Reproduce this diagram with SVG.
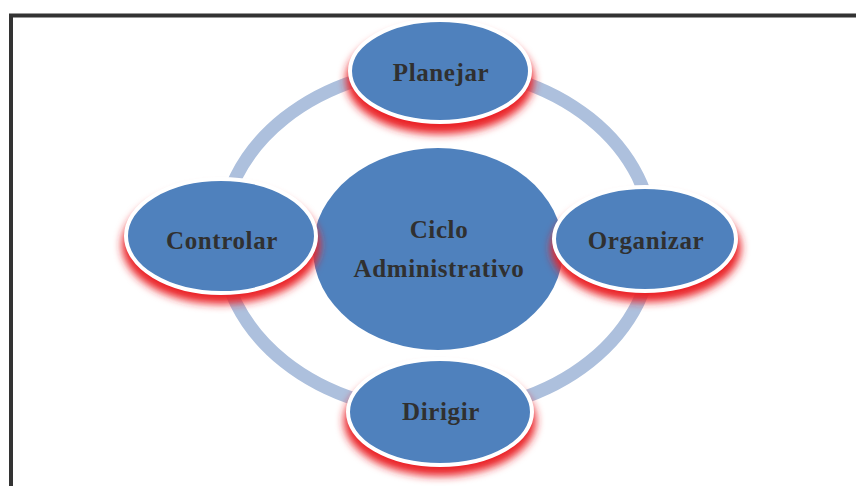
<svg xmlns="http://www.w3.org/2000/svg" width="856" height="486" viewBox="0 0 856 486">
  <defs>
    <filter id="glow" x="-30%" y="-30%" width="160%" height="170%">
      <feGaussianBlur stdDeviation="4"/>
    </filter>
    <style>
      .frame { fill: none; stroke: #333333; }
      .ring { fill: none; stroke: #adc0dd; stroke-width: 13; }
      .hub { fill: #4f81bd; }
      .shadow { fill: #ea2228; filter: url(#glow); }
      .step { fill: #4f81bd; stroke: #ffffff; stroke-width: 4; }
      .label { font-family: "Liberation Serif", "Times New Roman", serif; font-weight: bold; font-size: 25px; fill: #303030; text-anchor: middle; letter-spacing: 0.6px; }
    </style>
  </defs>

  <rect width="856" height="486" fill="#ffffff"/>

  <!-- page frame (top and left edges) -->
  <path class="frame" d="M11 486 V15.5 H856" stroke-width="4"/>

  <!-- cycle ring -->
  <g id="connectors">
    <ellipse class="ring" cx="437" cy="240" rx="216" ry="172"/>
  </g>

  <!-- central node -->
  <g id="node-ciclo">
    <ellipse class="hub" cx="438" cy="249" rx="125" ry="101"/>
    <text class="label" x="439" y="238">Ciclo</text>
    <text class="label" x="439" y="277">Administrativo</text>
  </g>

  <g id="node-planejar">
    <ellipse class="shadow" cx="440" cy="80" rx="94" ry="54"/>
    <ellipse class="step" cx="440" cy="71" rx="90" ry="51"/>
    <text class="label" x="441" y="81">Planejar</text>
  </g>

  <g id="node-controlar">
    <ellipse class="shadow" cx="221" cy="245" rx="99" ry="59"/>
    <ellipse class="step" cx="221" cy="236" rx="95" ry="57"/>
    <text class="label" x="222" y="249">Controlar</text>
  </g>

  <g id="node-organizar">
    <ellipse class="shadow" cx="646" cy="248" rx="95" ry="54"/>
    <ellipse class="step" cx="645" cy="239" rx="91" ry="52"/>
    <text class="label" x="646" y="249">Organizar</text>
  </g>

  <g id="node-dirigir">
    <ellipse class="shadow" cx="440" cy="421" rx="96" ry="55"/>
    <ellipse class="step" cx="440" cy="412" rx="92" ry="53"/>
    <text class="label" x="441" y="420">Dirigir</text>
  </g>
</svg>
